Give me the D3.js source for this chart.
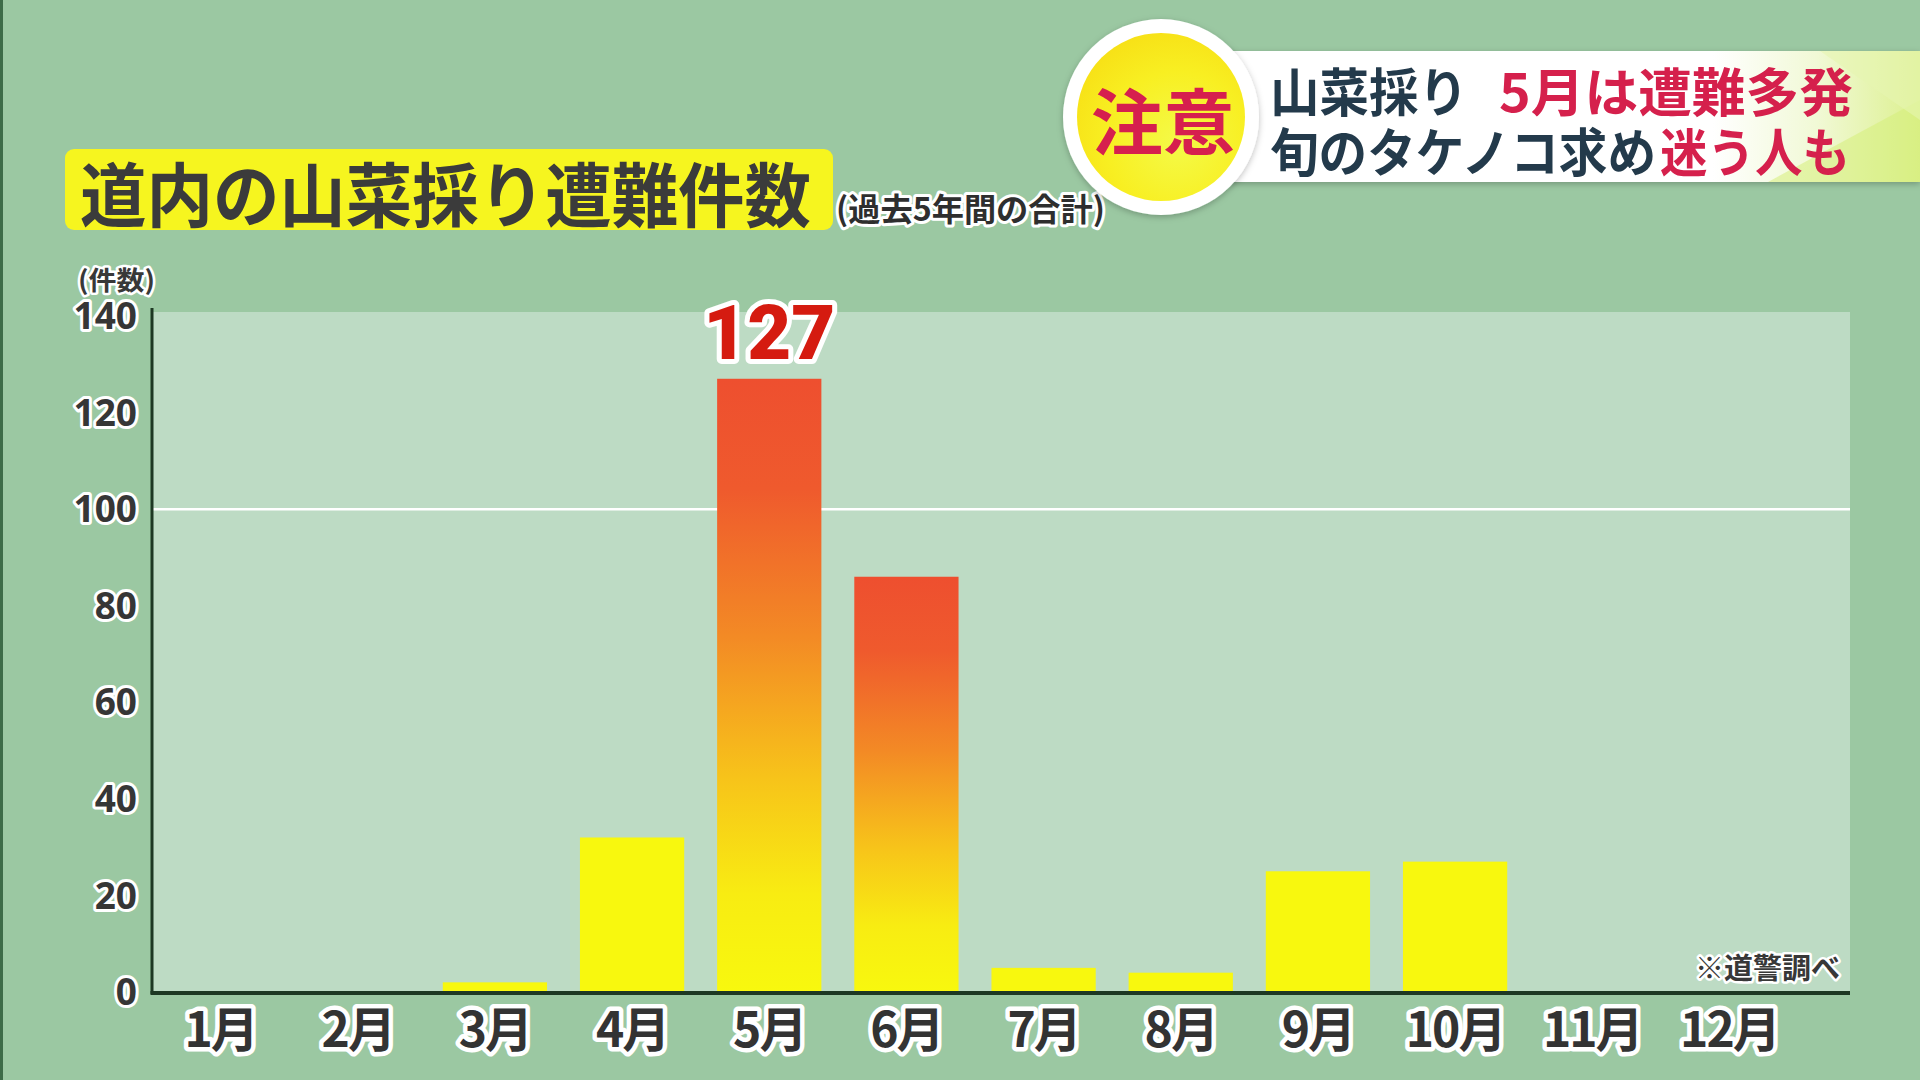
<!DOCTYPE html>
<html><head><meta charset="utf-8">
<script src="https://cdn.jsdelivr.net/npm/d3@7"></script>
<style>
html,body{margin:0;padding:0;background:#9bc8a2;overflow:hidden;}
svg{display:block;}
</style></head>
<body>
<svg id="c" width="1920" height="1080"></svg>
<script>
// ---- data ----
const months = ["1月","2月","3月","4月","5月","6月","7月","8月","9月","10月","11月","12月"];
const counts = [0, 0, 2, 32, 127, 86, 5, 4, 25, 27, 0, 0];
const yTicks = [0, 20, 40, 60, 80, 100, 120, 140];
const gridValues = [100];
const gradientMonths = ["5月", "6月"];
const titleText = "道内の山菜採り遭難件数";
const subtitleText = "(過去5年間の合計)";
const yAxisTitle = "(件数)";
const sourceText = "※道警調べ";
const badgeText = "注意";
const headline1 = [["山菜採り", "navy"], ["5月は遭難多発", "red"]];
const headline2 = [["旬のタケノコ求め", "navy"], ["迷う人も", "red"]];

const JP = "'Noto Sans CJK JP','Noto Sans',sans-serif";
const svg = d3.select("#c");
const defs = svg.append("defs");

// background
svg.append("rect").attr("width",1920).attr("height",1080).attr("fill","#9bc8a2");
svg.append("rect").attr("x",0).attr("y",0).attr("width",3).attr("height",1080).attr("fill","#3d6c48");

// scales
const x = d3.scaleBand().domain(months).range([152, 1798]).paddingInner(0.24).paddingOuter(0.12);
const y = d3.scaleLinear().domain([0, 140]).range([992, 316]);

// plot background
svg.append("rect").attr("x",153).attr("y",312).attr("width",1850-153).attr("height",992-312).attr("fill","#bddbc4");

// gridlines
svg.selectAll("line.grid").data(gridValues).join("line").attr("class","grid")
  .attr("x1",153).attr("x2",1850).attr("y1",d=>y(d)).attr("y2",d=>y(d))
  .attr("stroke","#ffffff").attr("stroke-width",2.5);

// gradient for highlighted bars
const lg = defs.append("linearGradient").attr("id","hot").attr("x1",0).attr("y1",0).attr("x2",0).attr("y2",1);
[[0,"#ee4f2f"],[0.18,"#ef5a2d"],[0.42,"#f38a25"],[0.65,"#f7c31a"],[0.84,"#f8ec12"],[1,"#f8f80e"]]
  .forEach(([o,c])=>lg.append("stop").attr("offset",o).attr("stop-color",c));

// bars
svg.selectAll("rect.bar").data(months.map((m,i)=>({m, v:counts[i]})).filter(d=>d.v>0)).join("rect")
  .attr("class","bar")
  .attr("x",d=>x(d.m)).attr("width",x.bandwidth())
  .attr("y",d=>y(d.v)).attr("height",d=>y(0)-y(d.v))
  .attr("fill",d=>gradientMonths.includes(d.m)?"url(#hot)":"#f8f80e");

// y axis
const yAxis = d3.axisLeft(y).tickValues(yTicks).tickSize(0).tickPadding(15);
const ga = svg.append("g").attr("transform","translate(152,0)").call(yAxis);
ga.select(".domain").remove();
ga.selectAll("text")
  .attr("font-family","'Noto Sans','DejaVu Sans',sans-serif").attr("font-size",37).attr("font-weight",700)
  .attr("fill","#363636").attr("stroke","#ffffff").attr("stroke-width",6).attr("paint-order","stroke")
  .attr("stroke-linejoin","round").attr("dy","0.34em");
svg.append("line").attr("x1",152).attr("x2",152).attr("y1",308).attr("y2",994)
  .attr("stroke","#1d3823").attr("stroke-width",3);
svg.append("line").attr("x1",150.5).attr("x2",1850).attr("y1",993).attr("y2",993)
  .attr("stroke","#1d3823").attr("stroke-width",4);

// month labels
svg.selectAll("text.month").data(months).join("text").attr("class","month")
  .attr("x",d=>x(d)+x.bandwidth()/2).attr("y",1026)
  .attr("text-anchor","middle").attr("dominant-baseline","central")
  .attr("font-family",JP).attr("font-size",48).attr("font-weight",700)
  .attr("fill","#333333").attr("stroke","#ffffff").attr("stroke-width",9)
  .attr("stroke-linejoin","round").attr("paint-order","stroke")
  .attr("letter-spacing",-2)
  .text(d=>d);

// peak value label
const maxI = d3.maxIndex(counts);
svg.append("text").attr("x",x(months[maxI])+x.bandwidth()/2).attr("y",y(counts[maxI])-20)
  .attr("text-anchor","middle")
  .attr("font-family","Roboto,'Liberation Sans',sans-serif").attr("font-size",76).attr("font-weight",900)
  .attr("fill","#d51b10").attr("stroke","#ffffff").attr("stroke-width",10)
  .attr("stroke-linejoin","round").attr("paint-order","stroke")
  .text(counts[maxI]);

// y axis title
svg.append("text").attr("x",78).attr("y",278).attr("dominant-baseline","central")
  .attr("font-family",JP).attr("font-size",26).attr("font-weight",700)
  .attr("fill","#383838").attr("stroke","#ffffff").attr("stroke-width",5)
  .attr("stroke-linejoin","round").attr("paint-order","stroke")
  .attr("textLength",77).attr("lengthAdjust","spacingAndGlyphs").text(yAxisTitle);

// source
svg.append("text").attr("x",1840).attr("y",966).attr("text-anchor","end").attr("dominant-baseline","central")
  .attr("font-family",JP).attr("font-size",29).attr("font-weight",700)
  .attr("fill","#383838").attr("stroke","#ffffff").attr("stroke-width",5)
  .attr("stroke-linejoin","round").attr("paint-order","stroke").text(sourceText);

// title box
svg.append("rect").attr("x",65).attr("y",149).attr("width",768).attr("height",81).attr("rx",9)
  .attr("fill","#f6f51f");
svg.append("text").attr("x",80).attr("y",191).attr("dominant-baseline","central")
  .attr("font-family",JP).attr("font-size",70).attr("font-weight",700).attr("fill","#3b3b3b")
  .attr("textLength",731).attr("lengthAdjust","spacingAndGlyphs").text(titleText);
svg.append("text").attr("x",836).attr("y",207).attr("dominant-baseline","central")
  .attr("font-family",JP).attr("font-size",32).attr("font-weight",700).attr("fill","#2e2e2e")
  .attr("stroke","#ffffff").attr("stroke-width",6).attr("stroke-linejoin","round").attr("paint-order","stroke")
  .attr("textLength",269).attr("lengthAdjust","spacingAndGlyphs").text(subtitleText);

// headline banner
const bg = defs.append("linearGradient").attr("id","ban").attr("x1",0).attr("y1",0).attr("x2",1).attr("y2",0);
[[0,"#ffffff"],[0.72,"#ffffff"],[0.86,"#f1f9d6"],[1,"#dcf08e"]].forEach(([o,c])=>bg.append("stop").attr("offset",o).attr("stop-color",c));
const sh = defs.append("filter").attr("id","sh").attr("x","-20%").attr("y","-20%").attr("width","140%").attr("height","140%");
sh.append("feDropShadow").attr("dx",0).attr("dy",2).attr("stdDeviation",3).attr("flood-color","#000").attr("flood-opacity",0.25);
svg.append("rect").attr("x",1180).attr("y",51).attr("width",740).attr("height",131).attr("fill","url(#ban)").attr("filter","url(#sh)");
svg.append("polygon").attr("points","1768,182 1920,100 1920,182").attr("fill","#d6ee7a").attr("opacity",0.55);
svg.append("polygon").attr("points","1820,51 1920,51 1920,120").attr("fill","#e6f5b0").attr("opacity",0.6);

const colors = {navy:"#233a4b", red:"#d5204c"};
function headline(parts, yy, xs, widths){
  parts.forEach(([t,c],i)=>{
    svg.append("text").attr("x",xs[i]).attr("y",yy).attr("dominant-baseline","central")
      .attr("font-family",JP).attr("font-size",52).attr("font-weight",700).attr("fill",colors[c])
      .attr("textLength",widths[i]).attr("lengthAdjust","spacingAndGlyphs").text(t);
  });
}
headline(headline1, 89, [1270,1499], [198,354]);
headline(headline2, 149, [1270,1660], [386,190]);

// badge
const rg = defs.append("radialGradient").attr("id","yel").attr("cx","60%").attr("cy","65%").attr("r","70%");
[[0,"#f4fa48"],[0.6,"#f8ef22"],[1,"#f7e016"]].forEach(([o,c])=>rg.append("stop").attr("offset",o).attr("stop-color",c));
svg.append("circle").attr("cx",1161).attr("cy",117).attr("r",98).attr("fill","#ffffff").attr("filter","url(#sh)");
svg.append("circle").attr("cx",1161).attr("cy",117).attr("r",84).attr("fill","url(#yel)");
svg.append("text").attr("x",1163).attr("y",117).attr("text-anchor","middle").attr("dominant-baseline","central")
  .attr("font-family",JP).attr("font-size",72).attr("font-weight",700).attr("fill","#d61f4e")
  .text(badgeText);
</script>
</body></html>
